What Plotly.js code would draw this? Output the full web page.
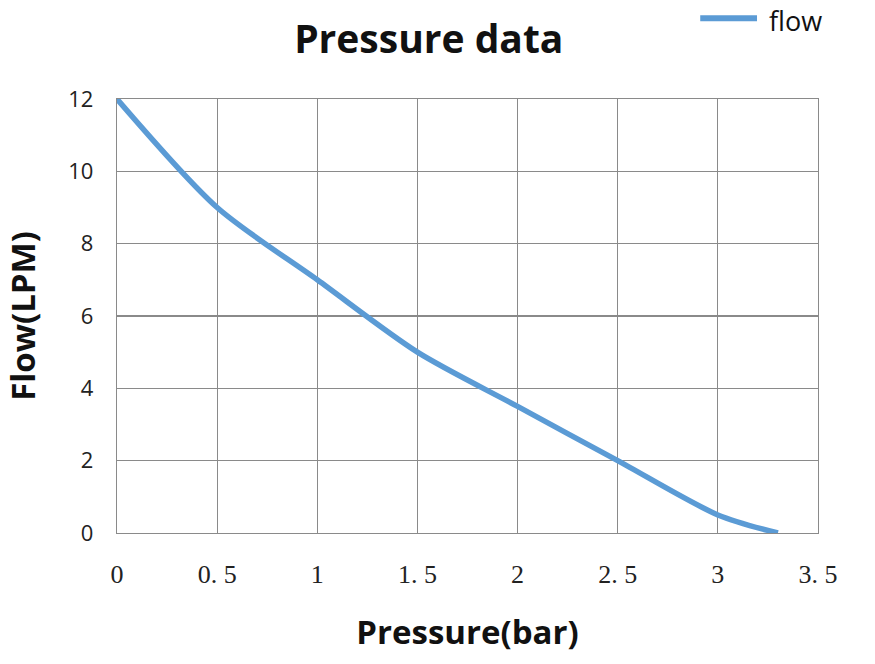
<!DOCTYPE html>
<html>
<head>
<meta charset="utf-8">
<script src="https://cdn.plot.ly/plotly-3.0.1.min.js"></script>
<style>html,body{margin:0;padding:0;background:#fff;}#chart{width:875px;height:664px;}</style>
</head>
<body>
<div id="chart"></div>
<script>
const pressure = [0, 0.5, 1, 1.5, 2, 2.5, 3, 3.3];
const flow = [12, 9, 7, 5, 3.5, 2, 0.5, 0];
const xTickVals = [0, 0.5, 1, 1.5, 2, 2.5, 3, 3.5];
const xTickText = ["0", "0. 5", "1", "1. 5", "2", "2. 5", "3", "3. 5"];
const yTickVals = [0, 2, 4, 6, 8, 10, 12];
const seriesName = 'flow';
const lineColor = '#5b9bd5';

const trace = {
  x: pressure, y: flow, type: 'scatter', mode: 'lines', name: seriesName,
  line: {color: lineColor, width: 5.5, shape: 'spline', smoothing: 0.8}
};
const layout = {
  width: 875, height: 664,
  margin: {l: 117, r: 57, t: 99, b: 131},
  paper_bgcolor: '#fff', plot_bgcolor: '#fff',
  title: {text: 'Pressure data', x: 0.49, xanchor: 'center', y: 0.94, yanchor: 'middle',
    font: {family: '"Open Sans", sans-serif', size: 39, color: '#111', weight: 'bold'}},
  showlegend: false,
  shapes: [{type: 'line', xref: 'paper', yref: 'paper', x0: 0.832, x1: 0.913, y0: 1.186, y1: 1.186,
    line: {color: lineColor, width: 6}, layer: 'above'}],
  annotations: [{text: seriesName, xref: 'paper', yref: 'paper', x: 0.927, y: 1.181, xanchor: 'left', yanchor: 'middle',
    showarrow: false, font: {family: '"Open Sans", sans-serif', size: 27, color: '#111'}}],
  xaxis: {
    range: [0, 3.5], tickvals: xTickVals, ticktext: xTickText,
    showgrid: true, gridcolor: '#8a8a8a', gridwidth: 1.2,
    showline: true, linecolor: '#8a8a8a', linewidth: 1.2, mirror: true,
    zeroline: false, ticks: '', ticklabelstandoff: 18,
    tickfont: {family: '"Liberation Serif", "DejaVu Serif", serif', size: 26, color: '#222'},
    title: {text: 'Pressure(bar)', standoff: 32, font: {family: '"Open Sans", sans-serif', size: 33, color: '#111', weight: 'bold'}}
  },
  yaxis: {
    range: [0, 12], tickvals: yTickVals,
    showgrid: true, gridcolor: '#8a8a8a', gridwidth: 1.2,
    showline: true, linecolor: '#8a8a8a', linewidth: 1.2, mirror: true,
    zeroline: false, ticks: '', ticklabelstandoff: 18,
    tickfont: {family: '"Open Sans", sans-serif', size: 22, color: '#222'},
    title: {text: 'Flow(LPM)', standoff: 28, font: {family: '"Open Sans", sans-serif', size: 33, color: '#111', weight: 'bold'}}
  }
};
Plotly.newPlot('chart', [trace], layout, {displayModeBar: false, staticPlot: true});
</script>
</body>
</html>
